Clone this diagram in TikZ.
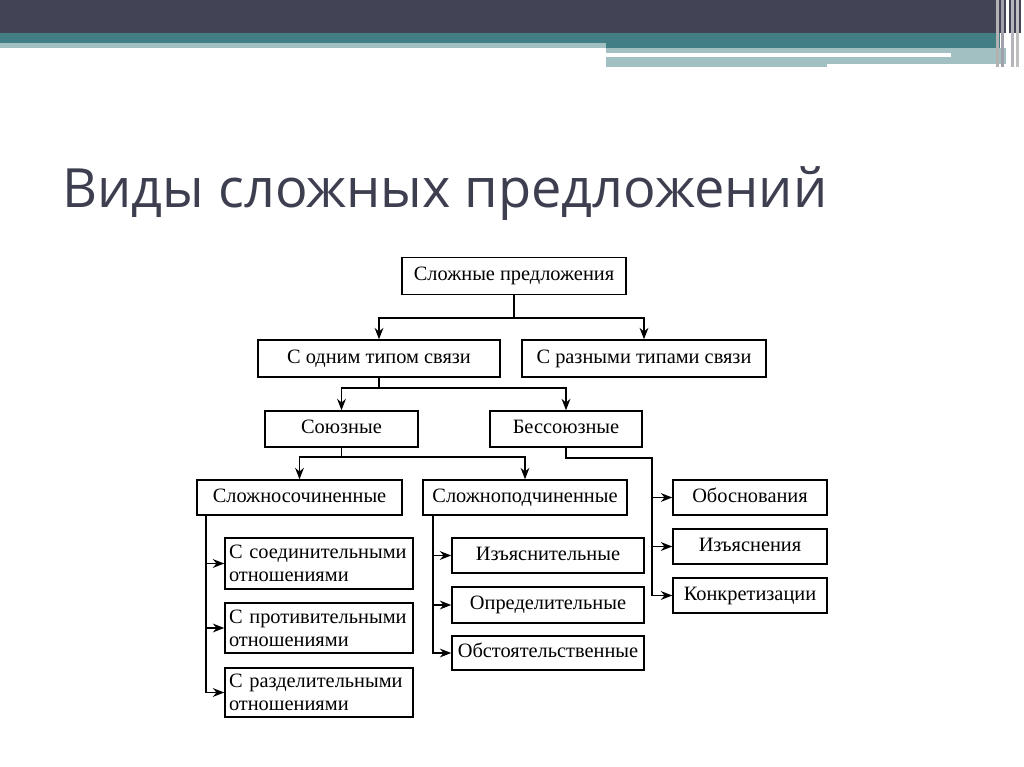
\documentclass[tikz,border=0pt]{standalone}
\usepackage{fontspec}
\setmainfont{Liberation Serif}
\newfontfamily\titlefont{Open Sans}
\usetikzlibrary{arrows.meta}

\definecolor{slate}{HTML}{424456}
\definecolor{teal}{HTML}{427F84}
\definecolor{paleteal}{HTML}{A2BFC2}
\definecolor{titlegray}{HTML}{3D3F50}

\begin{document}
\begin{tikzpicture}[x=0.02cm,y=-0.02cm,
    box/.style 2 args={draw=black,line width=0.85pt,inner sep=1.5pt,
      minimum width=#1*0.02cm,minimum height=#2*0.02cm,
      text height=8pt,text depth=2.5pt,
      font=\fontsize{11.6}{13}\selectfont},
    twoline/.style={align=left,text width=180*0.02cm,text height=,text depth=},
    link/.style={line width=0.85pt},
    arr/.style={link,-{Stealth[length=6.5pt,width=5pt]}}]
      \useasboundingbox (0,0) rectangle (1024,767);
      \fill[white] (0,0) rectangle (1024,767);

      % header bands
      \fill[slate] (0,0) rectangle (1024,33);
      \fill[teal] (0,33) rectangle (1000,43);
      \fill[paleteal] (0,43) rectangle (606,48);
      \fill[teal] (606,43) rectangle (1000,48);
      \fill[paleteal] (606,48) rectangle (1006,67);
      \fill[white] (606,53) rectangle (951,57);
      \fill[white] (827,64) rectangle (1006,67);
      \foreach \xx/\cc in {996/gray!60,1001/slate!50,1006/white,1011/slate!40,1016/gray!50,1021/white}
        \fill[\cc] (\xx,0) rectangle (\xx+2.5,67);

      % title
      \node[anchor=base west,inner sep=0pt,text=titlegray,
        font=\titlefont\fontsize{30.8}{36}\selectfont] (title) at (62,207) {Виды сложных предложений};

      % boxes
      \node[box={224}{37}] (top) at (514,276) {Сложные предложения};
      \node[box={242}{37}] (one) at (379,358.5) {С одним типом связи};
      \node[box={244}{37}] (diff) at (644,358.5) {С разными типами связи};
      \node[box={153}{36}] (soyuz) at (341.5,429) {Союзные};
      \node[box={152}{36}] (bes) at (566,429) {Бессоюзные};
      \node[box={205}{35}] (ssp) at (299.5,497.5) {Сложносочиненные};
      \node[box={204}{35}] (spp) at (525,497.5) {Сложноподчиненные};
      \node[box={154}{35}] (obos) at (750,497.5) {Обоснования};
      \node[box={154}{35}] (izya) at (750,546.5) {Изъяснения};
      \node[box={154}{35}] (konk) at (750,595.5) {Конкретизации};
      \node[box={188}{51},twoline] (soed) at (319,563.5) {С соединительными\\отношениями};
      \node[box={188}{50},twoline] (prot) at (319,628) {С противительными\\отношениями};
      \node[box={188}{49},twoline] (razd) at (319,692.5) {С разделительными\\отношениями};
      \node[box={192}{35}] (izyas) at (548,555.5) {Изъяснительные};
      \node[box={192}{36}] (opr) at (548,605) {Определительные};
      \node[box={192}{34}] (obst) at (548,653) {Обстоятельственные};

      % branch points
      \coordinate (b1) at (514,318);
      \coordinate (b2) at (379,388);
      \coordinate (b3) at (341.5,457);
      \coordinate (b4) at (566,458);
      \coordinate (r) at (652,458);
      \coordinate (l) at (206,497.5);
      \coordinate (m) at (433,497.5);

      \draw[link] (top) -- (b1);
      \draw[arr] (b1) -| (one);
      \draw[arr] (b1) -| (diff);
      \draw[link] (one) -- (b2);
      \draw[arr] (b2) -| (soyuz);
      \draw[arr] (b2) -| (bes);
      \draw[link] (soyuz) -- (b3);
      \draw[arr] (b3) -| (ssp);
      \draw[arr] (b3) -| (spp);

      \draw[arr] (bes) -- (b4) -- (r) |- (konk);
      \draw[arr] (r |- obos) -- (obos);
      \draw[arr] (r |- izya) -- (izya);

      \draw[arr] (l |- ssp.south) |- (razd);
      \draw[arr] (l |- soed) -- (soed);
      \draw[arr] (l |- prot) -- (prot);

      \draw[arr] (m |- spp.south) |- (obst);
      \draw[arr] (m |- izyas) -- (izyas);
      \draw[arr] (m |- opr) -- (opr);
    \end{tikzpicture}
\end{document}
